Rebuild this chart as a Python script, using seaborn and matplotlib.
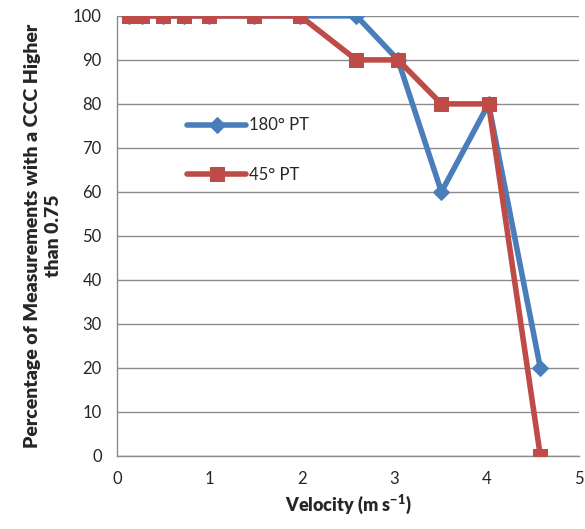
import matplotlib
matplotlib.use("Agg")
import matplotlib.pyplot as plt
import pandas as pd
import seaborn as sns

# velocity (m/s) and % of measurements with CCC > 0.75
velocity = [0.13, 0.27, 0.50, 0.73, 0.99, 1.48, 1.98, 2.59, 3.04, 3.51, 4.02, 4.58]
pt180 = [100, 100, 100, 100, 100, 100, 100, 100, 90, 60, 80, 20]
pt45 = [100, 100, 100, 100, 100, 100, 100, 90, 90, 80, 80, 0]
series_names = ["180\u00b0 PT", "45\u00b0 PT"]

blue = "#4A7EBB"
red = "#BE4B48"

df = pd.DataFrame({"velocity": velocity, series_names[0]: pt180, series_names[1]: pt45})

sns.set_style("white")
plt.rcParams["font.family"] = ["Lato", "DejaVu Sans"]

fig = plt.figure(figsize=(5.85, 5.29), dpi=100)
ax = fig.add_axes([0.2, 0.138, 0.79, 0.832])

sns.lineplot(data=df, x="velocity", y=series_names[0], ax=ax, color=blue,
             linewidth=4, marker="D", markersize=8, markeredgecolor=blue,
             label=series_names[0], zorder=3)
sns.lineplot(data=df, x="velocity", y=series_names[1], ax=ax, color=red,
             linewidth=4, marker="s", markersize=10, markeredgecolor=red,
             label=series_names[1], zorder=4)

ax.set_xlim(0, 5)
ax.set_ylim(0, 100)
ax.set_xticks(range(0, 6))
ax.set_yticks(range(0, 101, 10))
ax.yaxis.grid(True, color="#8c8c8c", linewidth=1)
ax.set_axisbelow(True)

for s in ["top", "right"]:
    ax.spines[s].set_visible(False)
for s in ["left", "bottom"]:
    ax.spines[s].set_color("#8c8c8c")
    ax.spines[s].set_linewidth(1)
ax.tick_params(axis="both", direction="out", length=5, color="#8c8c8c",
               labelsize=12, width=1, pad=6)

ax.set_xlabel("Velocity (m s$^{\\mathregular{-1}}$)", fontsize=13, fontweight="heavy")
ax.set_ylabel("Percentage of Measurements with a CCC Higher\nthan 0.75",
              fontsize=14, fontweight="heavy", labelpad=8,
              multialignment="center", linespacing=1.3)

ax.legend(loc="center left", bbox_to_anchor=(0.12, 0.695), frameon=False,
          fontsize=12, labelspacing=2.0, handlelength=3.5, handletextpad=0.2)

fig.savefig("out.png", dpi=100)
